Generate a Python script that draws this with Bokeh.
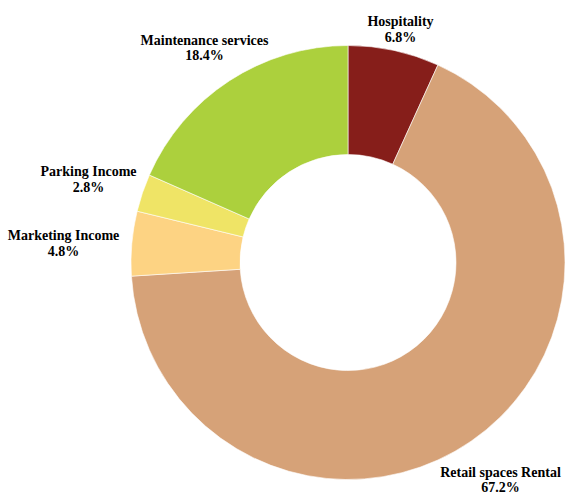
import math
from bokeh.plotting import figure
from bokeh.models import Range1d, ColumnDataSource
from bokeh.core.properties import value
from bokeh.embed import file_html
from bokeh.resources import INLINE

# ---- data (clockwise from 12 o'clock) ----
categories = ["Hospitality", "Retail spaces Rental", "Marketing Income",
              "Parking Income", "Maintenance services"]
shares = [6.8, 67.2, 4.8, 2.8, 18.4]
colors = ["#861E1A", "#D6A278", "#FDD383", "#EFE466", "#ACD03D"]

# ---- layout (picture pixel coordinates) ----
CX, CY = 347.5, 262
R_OUT, R_IN = 217, 108
# label anchor: centre x, baseline of first line, baseline of second line
label_pos = {
    "Hospitality": (400, 21, 37),
    "Retail spaces Rental": (500, 472, 487),
    "Marketing Income": (63, 235, 251),
    "Parking Income": (88, 171, 187),
    "Maintenance services": (204, 40, 55),
}

W, H = 567, 497
p = figure(width=W, height=H, output_backend="svg", toolbar_location=None,
           x_range=Range1d(0, W), y_range=Range1d(-H, 0),
           min_border=0, outline_line_color=None)
p.axis.visible = False
p.grid.visible = False
p.background_fill_color = "white"
p.border_fill_color = "white"

total = sum(shares)
starts, ends = [], []
acc = 0.0
for s in shares:
    a0 = math.pi / 2 - 2 * math.pi * acc / total
    acc += s
    a1 = math.pi / 2 - 2 * math.pi * acc / total
    starts.append(a0)
    ends.append(a1)

src = ColumnDataSource(dict(start=starts, end=ends, color=colors,
                            x=[CX] * len(shares), y=[-CY] * len(shares)))
p.annular_wedge(x="x", y="y", inner_radius=R_IN, outer_radius=R_OUT,
                start_angle="start", end_angle="end", direction="clock",
                fill_color="color", line_color="white", line_width=0.6,
                source=src)

lx, ly, lt = [], [], []
for cat, s in zip(categories, shares):
    x, b1, b2 = label_pos[cat]
    lx += [x, x]
    ly += [-b1, -b2]
    lt += [cat, f"{s:.1f}%"]

p.text(x=lx, y=ly, text=lt, text_align="center", text_baseline="alphabetic",
       text_font=value("Liberation Serif"), text_font_style="bold",
       text_font_size="14px", text_color="#000000")

open("out.html", "w").write(file_html(p, INLINE))
